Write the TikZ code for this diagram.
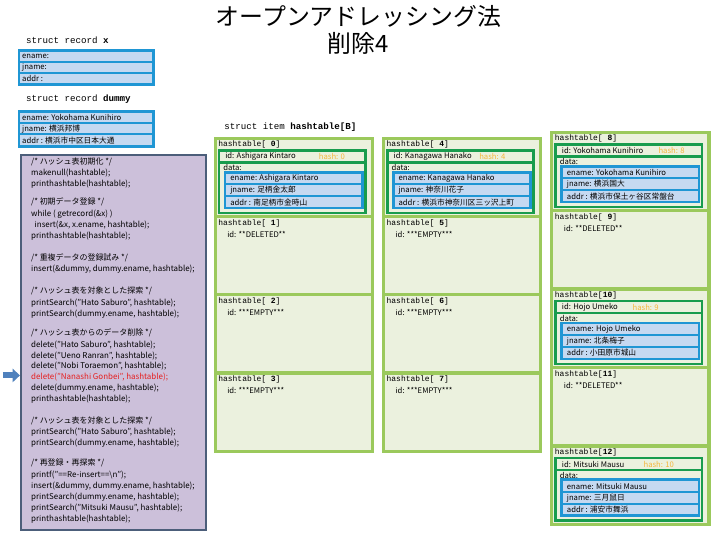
\documentclass[tikz,border=0pt]{standalone}
\usepackage{fontspec}
\setmainfont{Noto Sans CJK JP}
\newfontfamily\strfont{Liberation Mono}
\usepackage{tikz}
\usetikzlibrary{arrows.meta,positioning}
\usepackage{xcolor}
\definecolor{cellgreen}{RGB}{155,201,92}
\definecolor{cellfill}{RGB}{235,241,222}
\definecolor{itemgreen}{RGB}{24,156,78}
\definecolor{recblue}{RGB}{31,150,212}
\definecolor{recfill}{RGB}{197,217,241}
\definecolor{hashorange}{RGB}{244,182,58}
\definecolor{codefill}{RGB}{204,192,218}
\definecolor{codeline}{RGB}{76,94,122}
\definecolor{codered}{RGB}{230,30,30}
\definecolor{arrowblue}{RGB}{79,129,189}

% bucket in use: x, y, index, name, hash x, hash, jname, addr
\newcommand{\usedcell}[8]{%
  \draw[cellbox] (#1,#2) rectangle ++(158,78.5);
  \node[idxtext] (lab#3) at (#1+3,#2+6.5) {hashtable[\ifnum#3<10 \ \fi\textbf{#3}]};
  \draw[itembox] (#1+4,#2+12) rectangle (#1+151,#2+75);
  \draw[itemsep] (#1+4,#2+24) -- (#1+151,#2+24);
  \node[celltext] (id#3) at (#1+10,#2+18.5) {id: #4};
  \node[celltext,text=hashorange] (hash#3) at (#1+#5,#2+18.5) {hash: #6};
  \node[celltext] (data#3) at (#1+8,#2+29.5) {data:};
  \draw[recbox] (#1+10,#2+34) rectangle (#1+148,#2+70);
  \draw[recsep] (#1+10,#2+46) -- (#1+148,#2+46);
  \draw[recsep] (#1+10,#2+58) -- (#1+148,#2+58);
  \node[celltext] (ename#3) at (#1+15,#2+40.5) {ename: #4};
  \node[celltext] (jname#3) at (#1+15,#2+52) {jname: #7};
  \node[celltext] (addr#3) at (#1+15,#2+64) {addr : #8};
}
% empty or deleted bucket: x, y, index, status
\newcommand{\plaincell}[4]{%
  \draw[cellbox] (#1,#2) rectangle ++(158,78.5);
  \node[idxtext] (lab#3) at (#1+3,#2+6.5) {hashtable[\ifnum#3<10 \ \fi\textbf{#3}]};
  \node[celltext] (id#3) at (#1+12,#2+17.5) {id: #4};
}

\begin{document}
\begin{tikzpicture}[x=0.75pt, y=-0.75pt,
    cellbox/.style={draw=cellgreen, fill=cellfill, line width=2.4pt},
    itembox/.style={draw=itemgreen, fill=cellfill, line width=2pt},
    itemsep/.style={draw=itemgreen, line width=2pt},
    recbox/.style={draw=recblue, fill=recfill, line width=2pt},
    recsep/.style={draw=recblue, line width=1.5pt},
    celltext/.style={anchor=west, inner sep=0pt, font=\fontsize{5.8}{6}\selectfont},
    idxtext/.style={anchor=west, inner sep=0pt, font=\strfont\fontsize{6}{7}\selectfont},
    headtext/.style={anchor=west, inner sep=0pt, font=\strfont\fontsize{6.9}{8}\selectfont},
    codetext/.style={anchor=west, inner sep=0pt, font=\fontsize{6}{7}\selectfont},
    codebox/.style={draw=codeline, fill=codefill, line width=1.5pt, inner sep=0pt,
      minimum width=139.5pt, minimum height=282pt},
    delarrow/.style={draw=arrowblue, line width=4.5pt,
      -{Triangle[length=5.5pt, width=10pt]}}]
  \fill[white] (0,0) rectangle (720,540);
  % Title
  \node[font=\fontsize{18}{20}\selectfont] (title1) at (357,17) {オープンアドレッシング法};
  \node[font=\fontsize{18}{20}\selectfont] (title2) at (357,44) {削除4};

  % Records x and dummy
  \node[headtext] (headx) at (23,40) {struct record \textbf{x}};
  \draw[recbox] (16,51) rectangle (151,85);
  \foreach \y in {62,73} \draw[recsep] (16,\y) -- (151,\y);
  \node[celltext] (xename) at (19,56.5) {ename:};
  \node[celltext] (xjname) at (19,67.5) {jname:};
  \node[celltext] (xaddr) at (19,79) {addr :};
  \node[headtext] (headdummy) at (23,100) {struct record \textbf{dummy}};
  \draw[recbox] (16,112) rectangle (151,147);
  \foreach \y in {124,135} \draw[recsep] (16,\y) -- (151,\y);
  \node[celltext] (dename) at (19,118) {ename: Yokohama Kunihiro};
  \node[celltext] (djname) at (19,129.5) {jname: 横浜邦博};
  \node[celltext] (daddr) at (19,141) {addr : 横浜市中区日本大通};

  % Main program
  \node[codebox, anchor=north west] (code) at (17,155) {};
  \foreach \y/\t [count=\i] in {
      163/{/* ハッシュ表初期化 */},
      174/{makenull(hashtable);},
      185/{printhashtable(hashtable);},
      203/{/* 初期データ登録 */},
      215/{while ( getrecord(\&x) )},
      226/{\ \ insert(\&x, x.ename, hashtable);},
      237/{printhashtable(hashtable);},
      259/{/* 重複データの登録試み */},
      270/{insert(\&dummy, dummy.ename, hashtable);},
      292/{/* ハッシュ表を対象とした探索 */},
      304/{printSearch("Hato Saburo", hashtable);},
      315/{printSearch(dummy.ename, hashtable);},
      334/{/* ハッシュ表からのデータ削除 */},
      346/{delete("Hato Saburo", hashtable);},
      357/{delete("Ueno Ranran", hashtable);},
      368/{delete("Nobi Toraemon", hashtable);},
      379/{\textcolor{codered}{delete("Nanashi Gonbei", hashtable);}},
      390/{delete(dummy.ename, hashtable);},
      401/{printhashtable(hashtable);},
      423/{/* ハッシュ表を対象とした探索 */},
      434/{printSearch("Hato Saburo", hashtable);},
      445/{printSearch(dummy.ename, hashtable);},
      465/{/* 再登録・再探索 */},
      477/{printf("==Re-insert==\textbackslash n");},
      488/{insert(\&dummy, dummy.ename, hashtable);},
      499/{printSearch(dummy.ename, hashtable);},
      510/{printSearch("Mitsuki Mausu", hashtable);},
      521/{printhashtable(hashtable);}} {
    \node[codetext] (line\i) at (28,\y) {\t};
  }
  \coordinate (arrtail) at (0,377);
  \draw[delarrow] (arrtail) -- (code.west |- arrtail);

  % Hash table
  \node[headtext] (headtable) at (222,128) {struct item \textbf{hashtable[B]}};
  \usedcell{213}{139}{0}{Ashigara Kintaro}{104}{0}{足柄金太郎}{南足柄市金時山}
  \plaincell{213}{217.5}{1}{**DELETED**}
  \plaincell{213}{296}{2}{***EMPTY***}
  \plaincell{213}{374.5}{3}{***EMPTY***}
  \usedcell{382}{139}{4}{Kanagawa Hanako}{96}{4}{神奈川花子}{横浜市神奈川区三ッ沢上町}
  \plaincell{382}{217.5}{5}{***EMPTY***}
  \plaincell{382}{296}{6}{***EMPTY***}
  \plaincell{382}{374.5}{7}{***EMPTY***}
  \usedcell{551}{133}{8}{Yokohama Kunihiro}{107}{8}{横浜国大}{横浜市保土ヶ谷区常盤台}
  \plaincell{551}{211.7}{9}{**DELETED**}
  \usedcell{551}{290.4}{10}{Hojo Umeko}{81}{9}{北条梅子}{小田原市城山}
  \plaincell{551}{369.1}{11}{**DELETED**}
  \usedcell{551}{447.8}{12}{Mitsuki Mausu}{92}{10}{三月鼠日}{浦安市舞浜}
\end{tikzpicture}
\end{document}
